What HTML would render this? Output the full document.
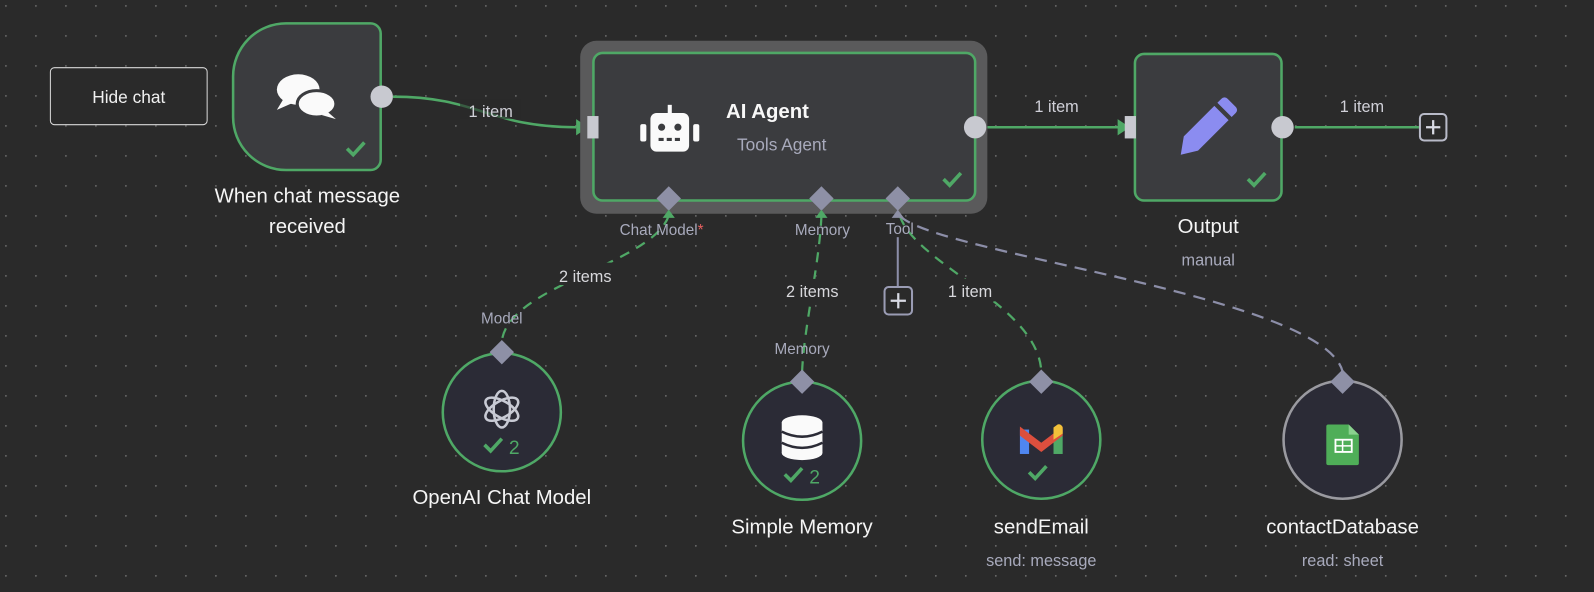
<!DOCTYPE html>
<html><head><meta charset="utf-8"><style>
html,body{margin:0;padding:0;background:#2a2a2a;width:1594px;height:592px;overflow:hidden}
svg{display:block}
text{font-family:"Liberation Sans",sans-serif}
</style></head><body>
<svg width="1594" height="592" viewBox="0 0 1566 581.6" preserveAspectRatio="none" xmlns="http://www.w3.org/2000/svg">
<defs>
<pattern id="dots" x="5" y="5" width="29.47" height="29.47" patternUnits="userSpaceOnUse">
<circle cx="0.8" cy="0.8" r="0.9" fill="#6a6a6a"/>
</pattern>
</defs>
<rect width="1566" height="582" fill="#2a2a2a"/>
<rect width="1566" height="582" fill="url(#dots)"/>

<!-- Hide chat -->
<rect x="49.5" y="66.5" width="154" height="56" rx="4" fill="#2a2a2a" stroke="#d8d8d8" stroke-width="1"/>
<text x="126.5" y="101" fill="#f0f0f0" font-size="17" text-anchor="middle">Hide chat</text>

<!-- edges -->
<path d="M386 95 C470 95 480 125 566 125" fill="none" stroke="#4fa866" stroke-width="2.5"/>
<rect x="452" y="97" width="60" height="20" fill="#2a2a2a" opacity="0.6"/>
<text x="482" y="115" fill="#d0d0d8" font-size="16" text-anchor="middle">1 item</text>
<polygon points="566,117 578,125 566,133" fill="#4fa866"/>
<line x1="970" y1="125" x2="1100" y2="125" stroke="#4fa866" stroke-width="2.5"/>
<polygon points="1098,117 1110,125 1098,133" fill="#4fa866"/>
<text x="1038" y="110" fill="#d0d0d8" font-size="16" text-anchor="middle">1 item</text>
<line x1="1272" y1="125" x2="1394" y2="125" stroke="#4fa866" stroke-width="2.5"/>
<text x="1338" y="110" fill="#d0d0d8" font-size="16" text-anchor="middle">1 item</text>
<rect x="1395" y="112" width="26" height="26" rx="4" fill="#2a2a2a" stroke="#b8bac8" stroke-width="2"/>
<path d="M1408 118v14M1401 125h14" stroke="#d8dae4" stroke-width="2.2"/>

<!-- dashed sub edges -->
<path d="M657 212 C640 260 500 280 493 335" fill="none" stroke="#4fa866" stroke-width="2.2" stroke-dasharray="10 8"/>
<path d="M807 212 C805 260 790 320 788 365" fill="none" stroke="#4fa866" stroke-width="2.2" stroke-dasharray="10 8"/>
<path d="M884 212 C900 260 1020 300 1023 365" fill="none" stroke="#4fa866" stroke-width="2.2" stroke-dasharray="10 8"/>
<path d="M884 212 C920 250 1300 290 1319 365" fill="none" stroke="#8c8ea8" stroke-width="2.2" stroke-dasharray="12 8"/>
<rect x="535" y="258" width="80" height="22" fill="#2a2a2a"/>
<text x="575" y="277" fill="#d8d8dc" font-size="16" text-anchor="middle">2 items</text>
<rect x="758" y="274" width="80" height="22" fill="#2a2a2a"/>
<text x="798" y="292" fill="#d8d8dc" font-size="16" text-anchor="middle">2 items</text>
<rect x="918" y="274" width="68" height="22" fill="#2a2a2a"/>
<text x="953" y="292" fill="#d8d8dc" font-size="16" text-anchor="middle">1 item</text>
<text x="493" y="318" fill="#a8aabc" font-size="15" text-anchor="middle">Model</text>
<text x="788" y="348" fill="#a8aabc" font-size="15" text-anchor="middle">Memory</text>

<!-- tool plus -->
<line x1="882" y1="233" x2="882" y2="282" stroke="#8c8ea8" stroke-width="2"/>
<rect x="869" y="282" width="27" height="27" rx="4" fill="#2a2a2a" stroke="#9a9cb4" stroke-width="2"/>
<path d="M882.5 288v15M875 295.5h15" stroke="#d8dae4" stroke-width="2.2"/>

<!-- trigger node -->
<path d="M281 23 H364 a10 10 0 0 1 10 10 V157 a10 10 0 0 1 -10 10 H281 a52 52 0 0 1 -52 -52 V75 a52 52 0 0 1 52 -52 Z" fill="#3b3c3f" stroke="#4fa866" stroke-width="2.5"/>
<g fill="#fafafa">
<ellipse cx="293" cy="88" rx="21" ry="15"/>
<path d="M278 98 L272 108 L288 101 Z"/>
<ellipse cx="311" cy="102" rx="19" ry="13" stroke="#3b3c3f" stroke-width="3"/>
<path d="M322 110 L330 117 L316 113 Z"/>
</g>
<path d="M341 146 l6 6 l11 -12" fill="none" stroke="#4fa866" stroke-width="3.5"/>
<circle cx="375" cy="95" r="11" fill="#c8c9d0"/>
<text x="302" y="199" fill="#f5f5f5" font-size="20" text-anchor="middle">When chat message</text>
<text x="302" y="229" fill="#f5f5f5" font-size="20" text-anchor="middle">received</text>

<!-- AI agent -->
<rect x="570" y="40" width="400" height="170" rx="16" fill="#5a5a5b"/>
<rect x="583" y="52" width="375" height="145" rx="9" fill="#3b3c3f" stroke="#4fa866" stroke-width="2.5"/>
<rect x="577" y="114" width="11" height="22" fill="#c8c9d0"/>
<circle cx="958" cy="125" r="11" fill="#c8c9d0"/>
<g fill="#fafafa">
<rect x="639" y="111" width="38" height="38" rx="6"/>
<rect x="629" y="122" width="6" height="17" rx="2"/>
<rect x="681" y="122" width="6" height="17" rx="2"/>
<rect x="656" y="103" width="4" height="10"/>
</g>
<circle cx="650" cy="125" r="3.5" fill="#3b3c3f"/><circle cx="666" cy="125" r="3.5" fill="#3b3c3f"/>
<path d="M647 137h22" stroke="#3b3c3f" stroke-width="3" stroke-dasharray="5 3"/>
<text x="754" y="116" fill="#f8f8f8" font-size="20" font-weight="bold" text-anchor="middle">AI Agent</text>
<text x="768" y="148" fill="#a8aabc" font-size="17" text-anchor="middle">Tools Agent</text>
<path d="M927 176 l6 6 l11 -12" fill="none" stroke="#4fa866" stroke-width="3.5"/>
<g fill="#8e90a6">
<polygon points="657,183 669,195 657,207 645,195"/>
<polygon points="807,183 819,195 807,207 795,195"/>
<polygon points="882,183 894,195 882,207 870,195"/>
</g>
<polygon points="651,214 657,206 663,214" fill="#4fa866"/>
<polygon points="801,214 807,206 813,214" fill="#4fa866"/>
<polygon points="876,214 882,206 888,214" fill="#8e90a6"/>
<text x="650" y="231" fill="#a8aabc" font-size="15" text-anchor="middle">Chat Model<tspan fill="#e86060">*</tspan></text>
<text x="808" y="231" fill="#a8aabc" font-size="15" text-anchor="middle">Memory</text>
<text x="884" y="230" fill="#a8aabc" font-size="15" text-anchor="middle">Tool</text>

<!-- Output node -->
<rect x="1115" y="53" width="144" height="144" rx="9" fill="#3b3c3f" stroke="#4fa866" stroke-width="2.5"/>
<rect x="1105" y="114" width="11" height="22" fill="#c8c9d0"/>
<circle cx="1260" cy="125" r="11" fill="#c8c9d0"/>
<path d="M1160 152 L1163 134 L1193 104 L1207 118 L1177 148 Z" fill="#8b8cf0"/>
<path d="M1196 101 l4 -4 a4 4 0 0 1 6 0 l8 8 a4 4 0 0 1 0 6 l-4 4 Z" fill="#8b8cf0"/>
<path d="M1226 176 l6 6 l11 -12" fill="none" stroke="#4fa866" stroke-width="3.5"/>
<text x="1187" y="229" fill="#f5f5f5" font-size="20" text-anchor="middle">Output</text>
<text x="1187" y="261" fill="#a8aabc" font-size="16" text-anchor="middle">manual</text>

<!-- OpenAI -->
<circle cx="493" cy="405" r="58" fill="#2b2b36" stroke="#4fa866" stroke-width="2.5"/>
<polygon points="493,334 505,346 493,358 481,346" fill="#8e90a6"/>
<g fill="none" stroke="#c8cad4" stroke-width="2.5">
<ellipse cx="493" cy="402" rx="8" ry="18"/>
<ellipse cx="493" cy="402" rx="8" ry="18" transform="rotate(60 493 402)"/>
<ellipse cx="493" cy="402" rx="8" ry="18" transform="rotate(-60 493 402)"/>
</g>
<path d="M476 437 l6 6 l11 -12" fill="none" stroke="#4fa866" stroke-width="3.5"/>
<text x="500" y="446" fill="#4fa866" font-size="19">2</text>
<text x="493" y="495" fill="#f5f5f5" font-size="20" text-anchor="middle">OpenAI Chat Model</text>

<!-- Simple memory -->
<circle cx="788" cy="433" r="58" fill="#2b2b36" stroke="#4fa866" stroke-width="2.5"/>
<polygon points="788,363 800,375 788,387 776,375" fill="#8e90a6"/>
<g fill="#fafafa">
<ellipse cx="788" cy="415" rx="20" ry="7"/>
<rect x="768" y="415" width="40" height="30"/>
<ellipse cx="788" cy="445" rx="20" ry="7"/>
</g>
<path d="M768 424 q20 10 40 0 M768 435 q20 10 40 0" fill="none" stroke="#2b2b36" stroke-width="2.5"/>
<path d="M771 466 l6 6 l11 -12" fill="none" stroke="#4fa866" stroke-width="3.5"/>
<text x="795" y="475" fill="#4fa866" font-size="19">2</text>
<text x="788" y="524" fill="#f5f5f5" font-size="20" text-anchor="middle">Simple Memory</text>

<!-- sendEmail -->
<circle cx="1023" cy="432" r="58" fill="#2b2b36" stroke="#4fa866" stroke-width="2.5"/>
<polygon points="1023,363 1035,375 1023,387 1011,375" fill="#8e90a6"/>
<rect x="1002" y="422" width="9" height="24" fill="#4f86f0"/>
<rect x="1035" y="422" width="9" height="24" fill="#4fa866"/>
<path d="M1002 419 L1023 435 L1044 419 L1044 428 L1023 444 L1002 428 Z" fill="#dc4f3e"/>
<path d="M1035 420 l4 -3 a4 4 0 0 1 5 3 v6 l-9 6 Z" fill="#f2c13a"/>
<path d="M1011 464 l6 6 l11 -12" fill="none" stroke="#4fa866" stroke-width="3.5"/>
<text x="1023" y="524" fill="#f5f5f5" font-size="20" text-anchor="middle">sendEmail</text>
<text x="1023" y="556" fill="#a8aabc" font-size="16" text-anchor="middle">send: message</text>

<!-- contactDatabase -->
<circle cx="1319" cy="432" r="58" fill="#2b2b36" stroke="#9a9aa0" stroke-width="2.5"/>
<polygon points="1319,363 1331,375 1319,387 1307,375" fill="#8e90a6"/>
<path d="M1305 417 h20 l10 10 v28 a2 2 0 0 1 -2 2 h-28 a2 2 0 0 1 -2 -2 v-36 a2 2 0 0 1 2 -2 Z" fill="#4fae58"/>
<path d="M1325 417 v10 h10 Z" fill="#8ad28f"/>
<rect x="1312" y="432" width="16" height="12" fill="none" stroke="#fff" stroke-width="1.8"/>
<path d="M1312 438h16M1319 432v12" stroke="#fff" stroke-width="1.5"/>
<text x="1319" y="524" fill="#f5f5f5" font-size="20" text-anchor="middle">contactDatabase</text>
<text x="1319" y="556" fill="#a8aabc" font-size="16" text-anchor="middle">read: sheet</text>
</svg>
</body></html>
